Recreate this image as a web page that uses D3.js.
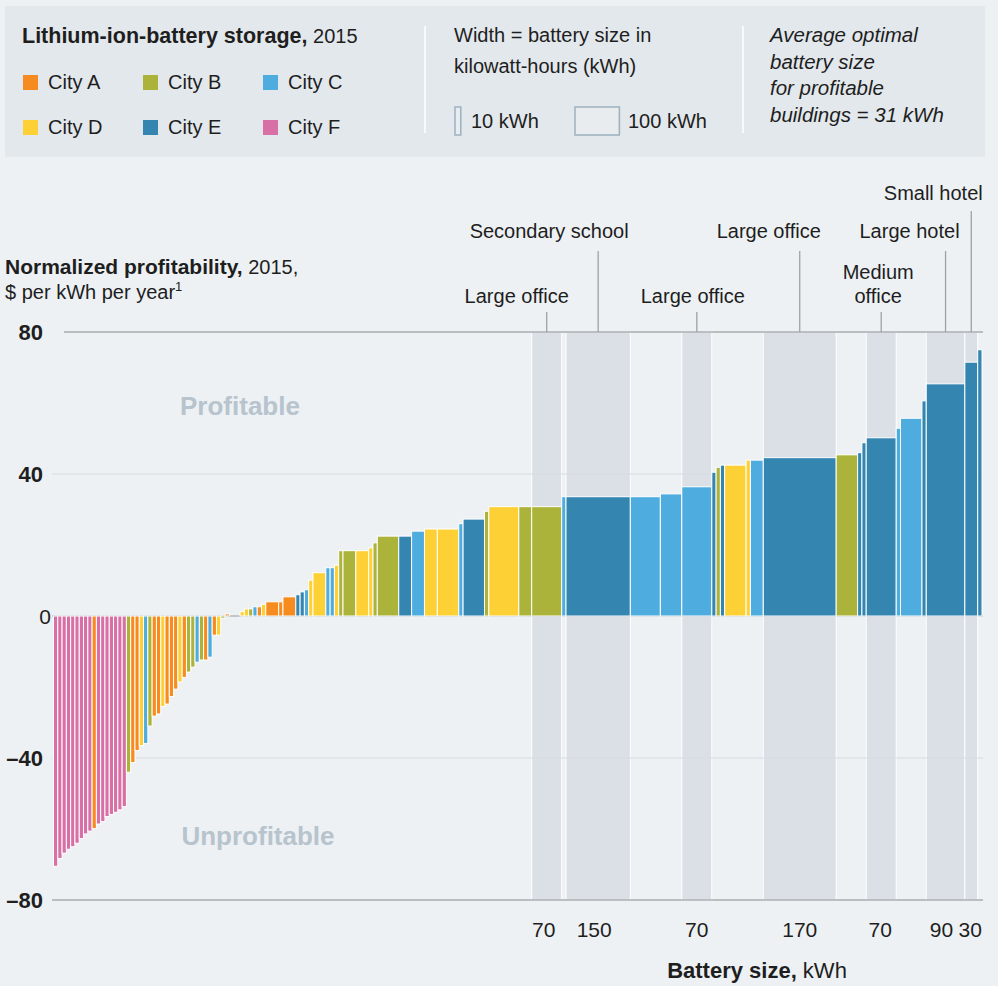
<!DOCTYPE html>
<html><head><meta charset="utf-8">
<script src="https://cdn.jsdelivr.net/npm/d3@7"></script>
<style>
body{margin:0;background:#edf1f4}
text{font-family:"Liberation Sans",Arial,Helvetica,sans-serif;fill:#1e1e1e}
</style>
</head><body>
<svg id="chart" width="998" height="986"></svg>
<script>
// ---------------- DATA ----------------
const cityKeys = ["A","B","C","D","E","F"];
const cityNames = ["City A","City B","City C","City D","City E","City F"];
const cityColors = ["#f68b1f","#abb33a","#4eacde","#fdd035","#3585b1","#d870a5"];

// one entry per bar, in drawing order (left to right)
const barCity = [
 "F","F","F","F","F","F","F","F","F","A","F","F","F","F","F","F","F",
 "B","A","A","D","C","B","A","A","D","A","A","A","D","A","B","B","C","B","A","C","A","D","B",
 "A","","D","D","B","C","A","D","A","A","A","E","E","C","D","D","C","C","D",
 "B","B","D","D","B","B","E","C","D","D","C","E","B","D","B","B",
 "C","E","C","C","C","E","B","E","D","D","C","E","B","E","E","E","C","C","E","E","E","E"
];
const barKWh = [
 10,10,10,10,10,10,10,10,10,10,10,10,10,10,10,10,10,
 10,10,10,10,10,10,10,10,10,10,10,10,10,10,10,10,10,10,10,10,10,10,10,
 10,25,10,10,10,10,10,10,30,10,30,10,10,10,10,30,10,10,10,
 10,30,30,10,10,50,30,30,30,50,10,50,10,70,30,70,
 10,150,70,50,70,10,10,10,50,10,30,170,50,10,10,70,10,50,10,90,30,10
];
const barValue = [
 -70.5,-68.3,-66.8,-65.7,-65.0,-64.0,-62.7,-61.4,-60.6,-59.9,-58.6,-57.9,-56.5,-55.9,-55.3,-54.6,-53.7,
 -44.0,-41.3,-37.9,-36.5,-35.9,-31.0,-28.2,-27.6,-25.5,-24.8,-22.7,-20.6,-18.6,-17.3,-15.8,-14.4,-13.0,-12.4,-12.4,-11.6,-5.4,-5.4,-0.6,
 0.6,0,1.2,2.0,2.0,2.6,2.6,3.3,4.0,4.0,5.4,6.0,6.8,7.4,10.1,12.2,13.6,13.6,14.3,
 18.4,18.4,18.4,19.2,20.6,22.5,22.5,23.9,24.5,24.5,26.0,27.3,29.5,30.8,30.8,30.8,
 33.6,33.6,33.6,34.4,36.4,40.5,41.9,42.5,42.5,43.9,43.9,44.6,45.4,46.0,48.8,50.2,52.9,55.7,60.6,65.4,71.5,75.0
];

// highlighted buildings (index of bar) and their labels
const annotBar = [74,76,79,86,90,94,95];
const annotLabel = [["Large office"],["Secondary school"],["Large office"],["Large office"],["Medium","office"],["Large hotel"],["Small hotel"]];

const yTicks = [80,40,0,-40,-80];
const yTickLabels = ["80","40","0","–40","–80"];

// ---------------- LAYOUT ----------------
const annotTier = [1,2,1,2,1,2,3];          // vertical level of label
const annotDx   = [-30,-49,-4,-31,-3,-36,-38];
const tickDx    = [-3,-4,0,0,-1,-4,-1];

const svg = d3.select("#chart");
const x0 = 53.5, x1 = 982;
const cum = [];
let acc = 0;
barKWh.forEach(w => { cum.push(acc); acc += w; });
const total = acc;
const x = d3.scaleLinear().domain([0,total]).range([x0,x1]);
const y = d3.scaleLinear().domain([-80,80]).range([900,332]);

const bars = barValue.map((v,i)=>({i, v, w:barKWh[i], c:barCity[i], s:cum[i]}));
const colorOf = k => cityColors[cityKeys.indexOf(k)];

// ----- legend box -----
const lg = svg.append("g");
lg.append("rect").attr("x",5).attr("y",6).attr("width",980).attr("height",151).attr("fill","#e3e8ec");
const t0 = lg.append("text").attr("x",22).attr("y",43).style("font-size","20px");
t0.append("tspan").attr("font-weight","bold").style("font-size","21.5px").text("Lithium-ion-battery storage,");
t0.append("tspan").text(" 2015");
cityNames.forEach((n,i)=>{
  const col = i%3, row = Math.floor(i/3);
  const gx = 23 + col*120, gy = 75 + row*45;
  lg.append("rect").attr("x",gx).attr("y",gy).attr("width",15).attr("height",15).attr("fill",cityColors[i]);
  lg.append("text").attr("x",gx+25).attr("y",gy+14).style("font-size","20px").text(n);
});
lg.append("line").attr("x1",425).attr("x2",425).attr("y1",26).attr("y2",133).attr("stroke","#fff").attr("stroke-width",1.5);
lg.append("line").attr("x1",743).attr("x2",743).attr("y1",26).attr("y2",133).attr("stroke","#fff").attr("stroke-width",1.5);
lg.append("text").attr("x",454).attr("y",42).style("font-size","20px").text("Width = battery size in");
lg.append("text").attr("x",454).attr("y",73).style("font-size","20px").text("kilowatt-hours (kWh)");
const kwScale = x(100)-x(0);
lg.append("rect").attr("x",455).attr("y",107).attr("width",kwScale*10/100+1.5).attr("height",28)
  .attr("fill","#e8ecef").attr("stroke","#9db0be").attr("stroke-width",1.5);
lg.append("text").attr("x",471).attr("y",128).style("font-size","20px").text("10 kWh");
lg.append("rect").attr("x",575).attr("y",107).attr("width",kwScale+1.5).attr("height",28)
  .attr("fill","#e8ecef").attr("stroke","#9db0be").attr("stroke-width",1.5);
lg.append("text").attr("x",628).attr("y",128).style("font-size","20px").text("100 kWh");
["Average optimal","battery size","for profitable","buildings = 31 kWh"].forEach((s,i)=>{
  lg.append("text").attr("x",770).attr("y",42+i*26.5).style("font-size","20.5px").style("font-style","italic").text(s);
});

// ----- highlight bands -----
const g = svg.append("g");
annotBar.forEach(bi=>{
  const b = bars[bi];
  g.append("rect").attr("x",x(b.s)).attr("y",y(80)).attr("width",x(b.s+b.w)-x(b.s)).attr("height",y(-80)-y(80))
    .attr("fill","#dbe0e6").attr("stroke","#fff").attr("stroke-width",1);
});

// gridlines
yTicks.forEach(t=>{
  const strong = (t===80||t===-80);
  g.append("line").attr("x1", t===80?64:52).attr("x2",983).attr("y1",y(t)).attr("y2",y(t))
    .attr("stroke", t===0 ? "#9a9ea3" : (strong ? "#a9adb1" : "#d6dbe0"))
    .attr("stroke-width", strong?1.5:1.2);
});

// bars
g.selectAll("rect.bar").data(bars.filter(b=>b.v!==0)).join("rect").attr("class","bar")
  .attr("x",b=>x(b.s)).attr("width",b=>x(b.s+b.w)-x(b.s))
  .attr("y",b=>y(Math.max(0,b.v))).attr("height",b=>Math.abs(y(b.v)-y(0)))
  .attr("fill",b=>colorOf(b.c)).attr("stroke","#fff").attr("stroke-width",1);

// y tick labels
yTicks.forEach((t,i)=>{
  const isZero = t===0;
  svg.append("text").attr("x", isZero?51:43).attr("y",y(t)+8).attr("text-anchor","end")
    .attr("font-weight", isZero?"normal":"bold").style("font-size", isZero?"21px":"22px").text(yTickLabels[i]);
});

// y axis title
const yt = svg.append("text").attr("x",5).attr("y",274).style("font-size","20px");
yt.append("tspan").attr("font-weight","bold").style("font-size","21px").text("Normalized profitability,");
yt.append("tspan").text(" 2015,");
const yt2 = svg.append("text").attr("x",5).attr("y",299).style("font-size","20px");
yt2.append("tspan").text("$ per kWh per year");
yt2.append("tspan").attr("dy",-8).style("font-size","13px").text("1");

// region labels
svg.append("text").attr("x",240).attr("y",415).attr("text-anchor","middle").attr("font-weight","bold")
  .style("font-size","26px").style("fill","#b7c4cd").text("Profitable");
svg.append("text").attr("x",258).attr("y",845).attr("text-anchor","middle").attr("font-weight","bold")
  .style("font-size","26px").style("fill","#b7c4cd").text("Unprofitable");

// annotations
const tierTop = {1:312, 2:251, 3:211};
const tierBase = {1:303, 2:238, 3:200};
annotBar.forEach((bi,k)=>{
  const b = bars[bi];
  const cx = x(b.s + b.w/2);
  const tier = annotTier[k];
  svg.append("line").attr("x1",cx).attr("x2",cx).attr("y1",tierTop[tier]).attr("y2",y(80))
    .attr("stroke","#9ea2a6").attr("stroke-width",1.3);
  const lines = annotLabel[k];
  lines.forEach((s,j)=>{
    svg.append("text").attr("x",cx+annotDx[k]).attr("y",tierBase[tier]-(lines.length-1-j)*24)
      .attr("text-anchor","middle").style("font-size","20px").text(s);
  });
  // x tick label (battery size)
  svg.append("text").attr("x",cx+tickDx[k]).attr("y",937).attr("text-anchor","middle")
    .style("font-size","21px").text(b.w);
});

// x axis title
const xt = svg.append("text").attr("x",757).attr("y",978).attr("text-anchor","middle").style("font-size","22px");
xt.append("tspan").attr("font-weight","bold").text("Battery size,");
xt.append("tspan").text(" kWh");
</script>
</body></html>
